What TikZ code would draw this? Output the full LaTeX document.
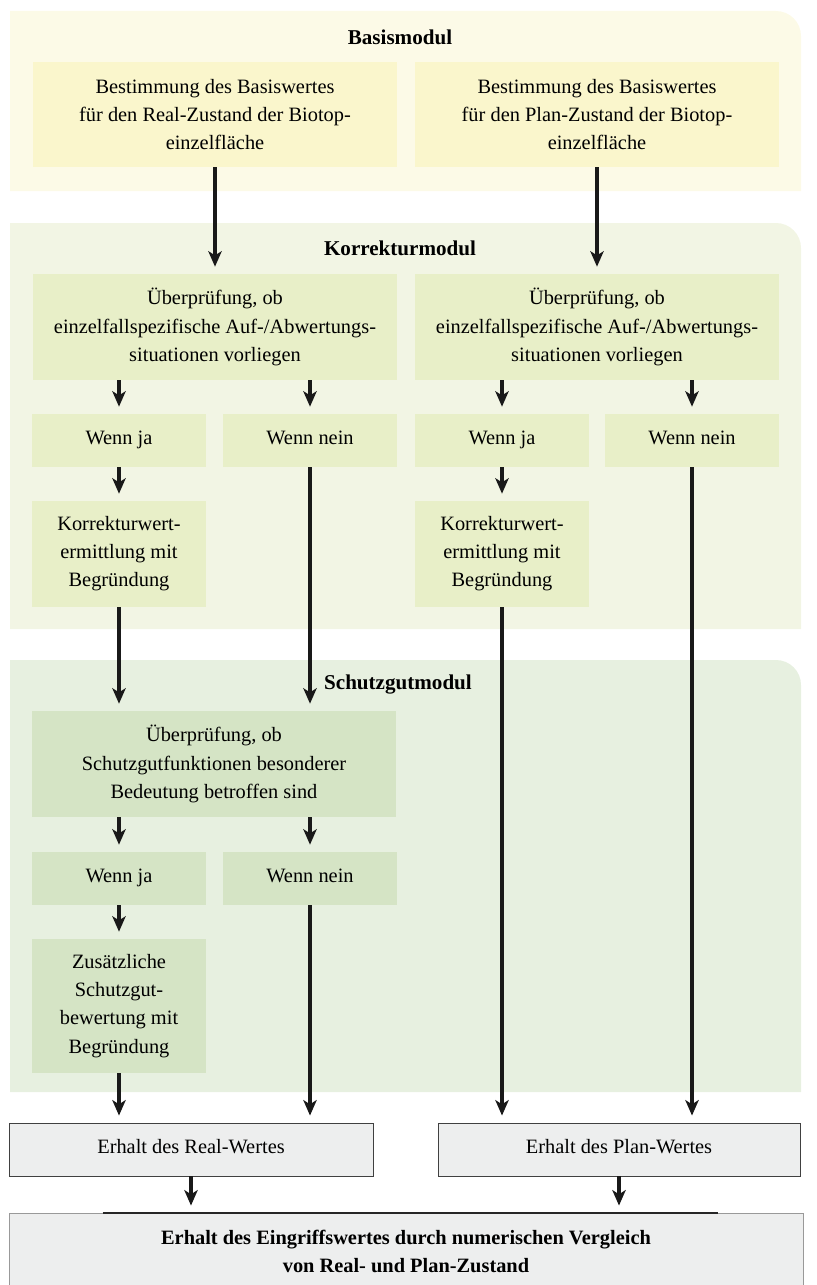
\documentclass[tikz,border=0pt]{standalone}
\usepackage{fontspec}
\setmainfont{Liberation Serif}
\usepackage{xcolor}
\usepackage{tikz}
\usetikzlibrary{arrows.meta, calc}

\definecolor{basisbg}{RGB}{252,250,231}
\definecolor{basisbox}{RGB}{250,246,204}
\definecolor{korrbg}{RGB}{242,245,228}
\definecolor{korrbox}{RGB}{232,239,200}
\definecolor{schutzbg}{RGB}{231,240,224}
\definecolor{schutzbox}{RGB}{213,228,197}
\definecolor{resultfill}{RGB}{237,238,238}

\begin{document}
\begin{tikzpicture}[
  font=\fontsize{14.5pt}{20pt}\selectfont,
  box/.style={inner sep=2pt, align=center},
  basis/.style={box, fill=basisbox, minimum width=9.1cm, minimum height=2.625cm},
  korr/.style={box, fill=korrbox, minimum height=1.325cm},
  schutz/.style={box, fill=schutzbox, minimum height=1.325cm},
  wenn/.style={minimum width=4.35cm, text height=1.6ex, text depth=0.5ex},
  result/.style={box, draw=black!75, line width=0.6pt, fill=resultfill,
                 minimum width=9.1cm, minimum height=1.325cm},
  title/.style={font=\fontsize{15pt}{20pt}\selectfont\bfseries},
  arrow/.style={-{Stealth[length=11pt, width=9.5pt, inset=3pt]},
                line width=2.2pt, draw=black!90, shorten >=5pt}
]
\useasboundingbox (0,0) rectangle (20.4,-32.125);

% ── Module panels ─────────────────────────────────────────
\fill[basisbg]  (0.25,-4.775) -- (0.25,-0.275) -- (19.4,-0.275)
                arc[start angle=90, end angle=0, radius=0.625] -- (20.025,-4.775) -- cycle;
\fill[korrbg]   (0.25,-15.725) -- (0.25,-5.575) -- (19.4,-5.575)
                arc[start angle=90, end angle=0, radius=0.625] -- (20.025,-15.725) -- cycle;
\fill[schutzbg] (0.25,-27.3) -- (0.25,-16.5) -- (19.4,-16.5)
                arc[start angle=90, end angle=0, radius=0.625] -- (20.025,-27.3) -- cycle;

\node[title] (tbasis)  at (10,-0.925)  {Basismodul};
\node[title] (tkorr)   at (10,-6.2)    {Korrekturmodul};
\node[title] (tschutz) at (9.95,-17.125) {Schutzgutmodul};

% ── Basismodul ────────────────────────────────────────────
\node[basis] (basreal) at (5.375,-2.8625)
  {Bestimmung des Basiswertes\\für den Real-Zustand der Biotop-\\einzelfläche};
\node[basis] (basplan) at (14.925,-2.8625)
  {Bestimmung des Basiswertes\\für den Plan-Zustand der Biotop-\\einzelfläche};

% ── Korrekturmodul ────────────────────────────────────────
\node[korr, minimum width=9.1cm, minimum height=2.65cm] (chkreal) at (5.375,-8.175)
  {Überprüfung, ob\\einzelfallspezifische Auf-/Abwertungs-\\situationen vorliegen};
\node[korr, minimum width=9.1cm, minimum height=2.65cm] (chkplan) at (14.925,-8.175)
  {Überprüfung, ob\\einzelfallspezifische Auf-/Abwertungs-\\situationen vorliegen};

\node[korr, wenn] (jareal)   at (2.975,-11.0125) {Wenn ja};
\node[korr, wenn] (neinreal) at (7.75,-11.0125)  {Wenn nein};
\node[korr, wenn] (japlan)   at (12.55,-11.0125) {Wenn ja};
\node[korr, wenn] (neinplan) at (17.3,-11.0125)  {Wenn nein};

\node[korr, minimum width=4.35cm, minimum height=2.65cm] (korreal) at (2.975,-13.85)
  {Korrekturwert-\\ermittlung mit\\Begründung};
\node[korr, minimum width=4.35cm, minimum height=2.65cm] (korplan) at (12.55,-13.85)
  {Korrekturwert-\\ermittlung mit\\Begründung};

% ── Schutzgutmodul ────────────────────────────────────────
\node[schutz, minimum width=9.1cm, minimum height=2.65cm] (chkschutz) at (5.35,-19.1)
  {Überprüfung, ob\\Schutzgutfunktionen besonderer\\Bedeutung betroffen sind};
\node[schutz, wenn] (jaschutz)   at (2.975,-21.9625) {Wenn ja};
\node[schutz, wenn] (neinschutz) at (7.75,-21.9625)  {Wenn nein};
\node[schutz, minimum width=4.35cm, minimum height=3.35cm] (zusschutz) at (2.975,-25.15)
  {Zusätzliche\\Schutzgut-\\bewertung mit\\Begründung};

% ── Results ───────────────────────────────────────────────
\node[result, text height=1.6ex, text depth=0.5ex] (endreal) at (4.775,-28.7375)
  {Erhalt des Real-Wertes};
\node[result, text height=1.6ex, text depth=0.5ex, minimum width=9.05cm] (endplan)
  at (15.475,-28.7375) {Erhalt des Plan-Wertes};
\node[result, draw=black!40, minimum width=19.85cm, minimum height=1.9cm,
      font=\fontsize{14.5pt}{20pt}\selectfont\bfseries]
      (total) at (10.15,-31.275)
  {Erhalt des Eingriffswertes durch numerischen Vergleich\\von Real- und Plan-Zustand};
\draw[line width=1.4pt, black!85] ($(total.north west)+(2.35,0)$) -- ($(total.north east)-(2.125,0)$);

% ── Arrows ────────────────────────────────────────────────
\draw[arrow] (basreal) -- (chkreal);
\draw[arrow] (basplan) -- (chkplan);

\draw[arrow] (chkreal.south -| jareal)   -- (jareal);
\draw[arrow] (chkreal.south -| neinreal) -- (neinreal);
\draw[arrow] (chkplan.south -| japlan)   -- (japlan);
\draw[arrow] (chkplan.south -| neinplan) -- (neinplan);
\draw[arrow] (jareal) -- (korreal);
\draw[arrow] (japlan) -- (korplan);

\draw[arrow] (korreal)  -- (korreal |- chkschutz.north);
\draw[arrow] (neinreal) -- (neinreal |- chkschutz.north);
\draw[arrow] (korplan)  -- (korplan |- endplan.north);
\draw[arrow] (neinplan) -- (neinplan |- endplan.north);

\draw[arrow] (chkschutz.south -| jaschutz)   -- (jaschutz);
\draw[arrow] (chkschutz.south -| neinschutz) -- (neinschutz);
\draw[arrow] (jaschutz)   -- (zusschutz);
\draw[arrow] (zusschutz)  -- (zusschutz |- endreal.north);
\draw[arrow] (neinschutz) -- (neinschutz |- endreal.north);

\draw[arrow] (endreal) -- (endreal |- total.north);
\draw[arrow] (endplan) -- (endplan |- total.north);

\end{tikzpicture}
\end{document}
